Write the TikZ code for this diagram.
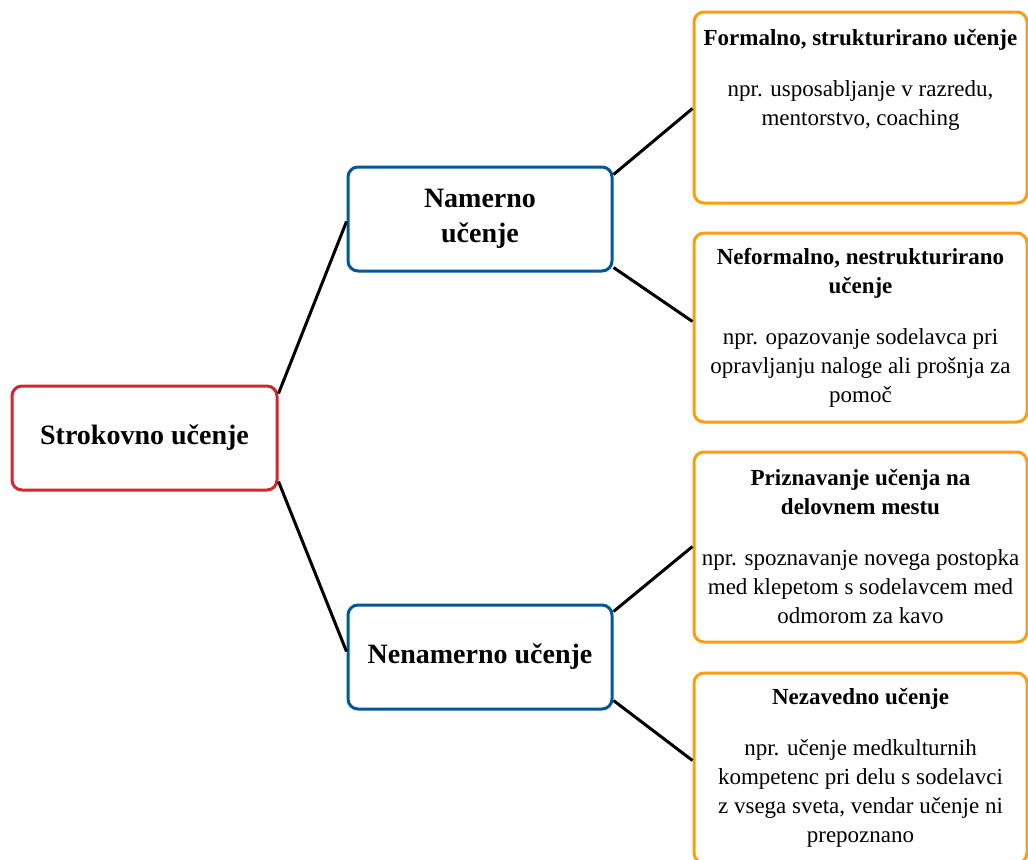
\documentclass[tikz,border=0pt]{standalone}
\usepackage{fontspec}
\setmainfont{Liberation Serif}
\usetikzlibrary{calc}
\definecolor{rootred}{RGB}{210,38,48}
\definecolor{midblue}{RGB}{0,88,155}
\definecolor{leaforange}{RGB}{255,158,13}
\begin{document}
\begin{tikzpicture}[x=0.5pt,y=-0.5pt,
	box/.style={draw,line width=1.5pt,rounded corners=5pt,fill=white,inner sep=0pt},
	root/.style={box,draw=rootred,minimum width=132.5pt,minimum height=52pt,align=center,font=\fontsize{14}{17.5}\selectfont\bfseries},
	mid/.style={box,draw=midblue,minimum width=132pt,minimum height=52pt,align=center,font=\fontsize{14}{17.5}\selectfont\bfseries},
	leaf/.style={box,draw=leaforange,minimum width=166.5pt,minimum height=95pt},
	leaftext/.style={anchor=north,inner sep=0pt,align=center,font=\fontsize{11.5}{14.5}\selectfont},
	link/.style={line width=1.5pt}]
	\clip (0,0) rectangle (1028,859);
	\node[root] (str) at (144.5,438) {Strokovno učenje};
	\node[mid] (nam) at (480,219) {Namerno\\učenje};
	\node[mid] (nen) at (480,657) {Nenamerno učenje};
	\node[leaf,minimum height=95.5pt] (f1) at (860.5,107.5) {};
	\node[leaf,minimum height=94.5pt] (f2) at (860.5,327.5) {};
	\node[leaf] (f3) at (860.5,547) {};
	\node[leaf] (f4) at (860.5,768) {};
	\node[leaftext] (t1) at ($(f1.north)+(0,18)$) {\textbf{Formalno, strukturirano učenje}\\[11pt]
		npr. usposabljanje v razredu,\\mentorstvo, coaching};
	\node[leaftext] (t2) at ($(f2.north)+(0,16)$) {\textbf{Neformalno, nestrukturirano}\\\textbf{učenje}\\[11pt]
		npr. opazovanje sodelavca pri\\opravljanju naloge ali prošnja za\\pomoč};
	\node[leaftext] (t3) at ($(f3.north)+(0,18)$) {\textbf{Priznavanje učenja na}\\\textbf{delovnem mestu}\\[11pt]
		npr. spoznavanje novega postopka\\med klepetom s sodelavcem med\\odmorom za kavo};
	\node[leaftext] (t4) at ($(f4.north)+(0,16)$) {\textbf{Nezavedno učenje}\\[11pt]
		npr. učenje medkulturnih\\kompetenc pri delu s sodelavci\\z vsega sveta, vendar učenje ni\\prepoznano};
	\foreach \a/\da/\b/\db in {str.north east/9/nam.north west/56, str.south east/-10/nen.north west/48,
		nam.north east/9/f1.north west/98, nam.south east/-5/f2.north west/90,
		nen.north east/8/f3.north west/96, nen.south east/-10/f4.north west/89}{
		\draw[link] ($(\a)+(0,\da)$)--($(\b)+(0,\db)$);
	}
\end{tikzpicture}
\end{document}
